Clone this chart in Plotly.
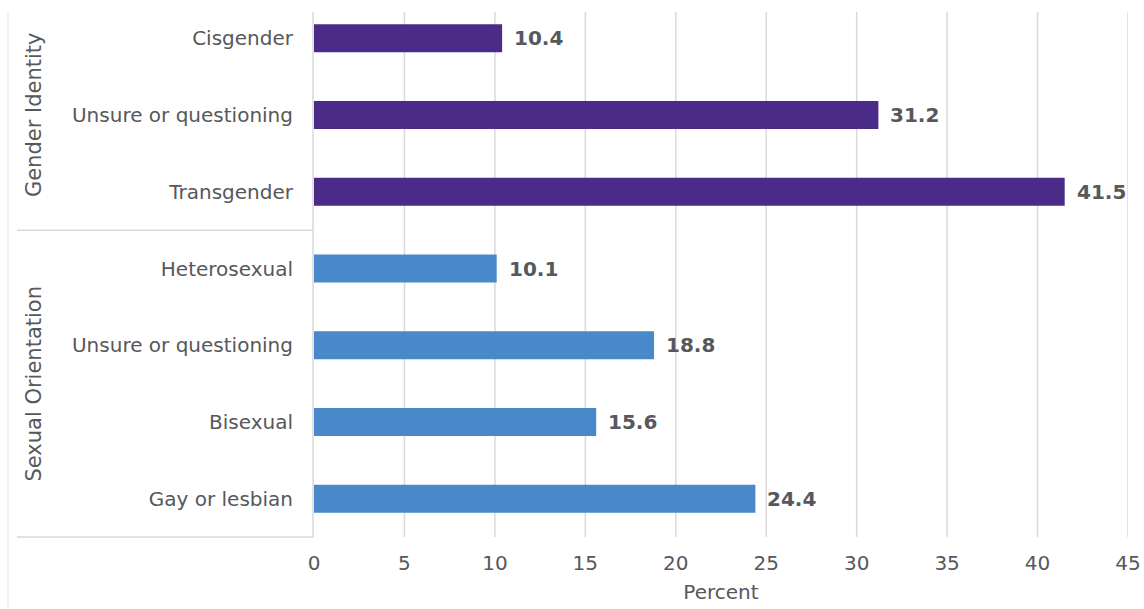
import plotly.graph_objects as go

groups = ["Gender Identity", "Sexual Orientation"]
categories = ["Cisgender", "Unsure or questioning", "Transgender",
              "Heterosexual", "Unsure or questioning", "Bisexual", "Gay or lesbian"]
category_group = [0, 0, 0, 1, 1, 1, 1]
values = [10.4, 31.2, 41.5, 10.1, 18.8, 15.6, 24.4]
x_ticks = [0, 5, 10, 15, 20, 25, 30, 35, 40, 45]

group_colors = ["#4A2C88", "#4A89C9"]
TEXT = "#56585C"
GRID = "#D9D9D9"
FONT = "DejaVu Sans"

ypos = list(range(len(categories)))
colors = [group_colors[g] for g in category_group]

fig = go.Figure()
fig.add_trace(go.Bar(
    x=values, y=ypos, orientation="h",
    marker=dict(color=colors, line=dict(width=0)),
    hoverinfo="skip",
))

# value labels
for v, y in zip(values, ypos):
    fig.add_annotation(x=v, y=y, text=f"<b>{v:.1f}</b>", showarrow=False,
                       xanchor="left", xshift=10, yshift=0,
                       font=dict(family=FONT, size=20, color=TEXT))

L, R, T, B = 314, 16, 0, 72
W, H = 1144, 609
pw = W - L - R
ph = H - T - B

def px_to_paper_x(px):
    return (px - L) / pw

def px_to_paper_y(py):
    return 1 - (py - T) / ph

shapes = []
top_grid = px_to_paper_y(12)
for t in x_ticks[1:]:
    shapes.append(dict(type="line", xref="x", yref="paper", x0=t, x1=t,
                       y0=0, y1=top_grid, line=dict(color=GRID, width=1.5), layer="below"))
# left axis line
shapes.append(dict(type="line", xref="paper", yref="paper", x0=px_to_paper_x(313), x1=px_to_paper_x(313),
                   y0=0, y1=top_grid, line=dict(color=GRID, width=1.5)))
# group separators
left = px_to_paper_x(17)
n = len(categories)
bounds = [i for i in range(1, n) if category_group[i] != category_group[i - 1]]
for b in bounds:
    shapes.append(dict(type="line", xref="paper", yref="y", x0=left, x1=px_to_paper_x(313),
                       y0=b - 0.5, y1=b - 0.5, line=dict(color=GRID, width=1.5)))
shapes.append(dict(type="line", xref="paper", yref="paper", x0=left, x1=px_to_paper_x(313),
                   y0=0, y1=0, line=dict(color=GRID, width=1.5)))
# outer left border
shapes.append(dict(type="line", xref="paper", yref="paper", x0=px_to_paper_x(8), x1=px_to_paper_x(8),
                   y0=px_to_paper_y(609), y1=top_grid, line=dict(color="#EBEBEB", width=1.2)))

# group labels
for gi, g in enumerate(groups):
    idx = [i for i, c in enumerate(category_group) if c == gi]
    mid = (idx[0] + idx[-1]) / 2
    fig.add_annotation(x=px_to_paper_x(34), xref="paper", y=mid, yref="y", text=g,
                       textangle=-90, showarrow=False, xanchor="center", yanchor="middle",
                       font=dict(family=FONT, size=21, color=TEXT))

fig.update_layout(
    width=W, height=H,
    margin=dict(l=L, r=R, t=T, b=B, pad=0),
    paper_bgcolor="white", plot_bgcolor="white",
    showlegend=False,
    bargap=0.635,
    shapes=shapes,
    font=dict(family=FONT, color=TEXT),
)
fig.update_xaxes(range=[0, 45], tickvals=x_ticks, showgrid=False, zeroline=False,
                 showline=False, ticks="outside", ticklen=8, tickcolor="rgba(0,0,0,0)",
                 tickfont=dict(family=FONT, size=20, color=TEXT),
                 title=dict(text="Percent", font=dict(family=FONT, size=20, color=TEXT), standoff=10),
                 fixedrange=True)
fig.update_yaxes(range=[n - 0.5, -0.5], tickvals=ypos, ticktext=categories,
                 showgrid=False, zeroline=False, showline=False,
                 ticks="outside", ticklen=16, tickcolor="rgba(0,0,0,0)",
                 tickfont=dict(family=FONT, size=20, color=TEXT), fixedrange=True)

fig.write_html("out.html", config={"displayModeBar": False})
